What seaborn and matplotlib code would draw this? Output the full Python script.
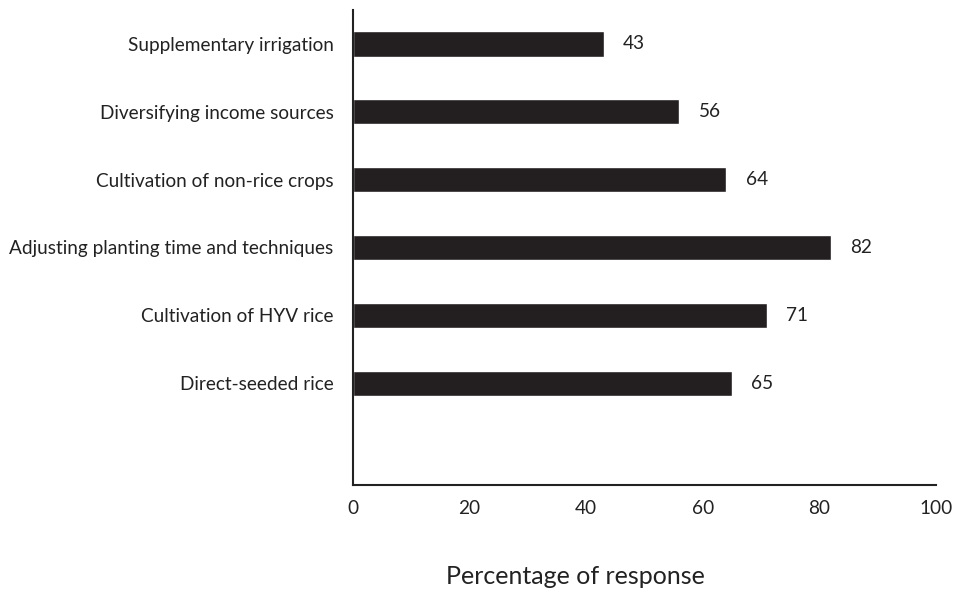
import matplotlib
matplotlib.use("Agg")
import matplotlib.pyplot as plt
import seaborn as sns
import pandas as pd

categories = ["Supplementary irrigation", "Diversifying income sources",
              "Cultivation of non-rice crops", "Adjusting planting time and techniques",
              "Cultivation of HYV rice", "Direct-seeded rice"]
values = [43, 56, 64, 82, 71, 65]
xticks = [0, 20, 40, 60, 80, 100]

sns.set_theme(style="white")
plt.rcParams['font.family'] = ['Lato', 'DejaVu Sans']

df = pd.DataFrame({"category": categories, "value": values})

fig = plt.figure(figsize=(9.58, 5.92), dpi=100)
ax = fig.add_axes([0.3685, 0.181, 0.977 - 0.3685, 0.983 - 0.181])
sns.barplot(data=df, y="category", x="value", orient="h", color="#231f20",
            saturation=1, width=0.37, ax=ax, order=categories)
ax.set_ylim(6.5, -0.5)
ax.set_xlim(0, 100)
ax.set_xticks(xticks)
ax.set_xticklabels([str(t) for t in xticks])
for c in ax.containers:
    ax.bar_label(c, fmt="%d", padding=14, fontsize=13.7, color="#222222")
for s in ["top", "right"]:
    ax.spines[s].set_visible(False)
for s in ["left", "bottom"]:
    ax.spines[s].set_color("#222222")
    ax.spines[s].set_linewidth(1.5)
ax.tick_params(axis="both", length=0, labelsize=13.7, colors="#222222")
ax.tick_params(axis="y", pad=14)
ax.tick_params(axis="x", pad=11)
ax.set_ylabel("")
ax.set_xlabel("Percentage of response", fontsize=18, color="#222222")
ax.xaxis.set_label_coords(0.381, -0.168)
fig.savefig("out.png", dpi=100)
